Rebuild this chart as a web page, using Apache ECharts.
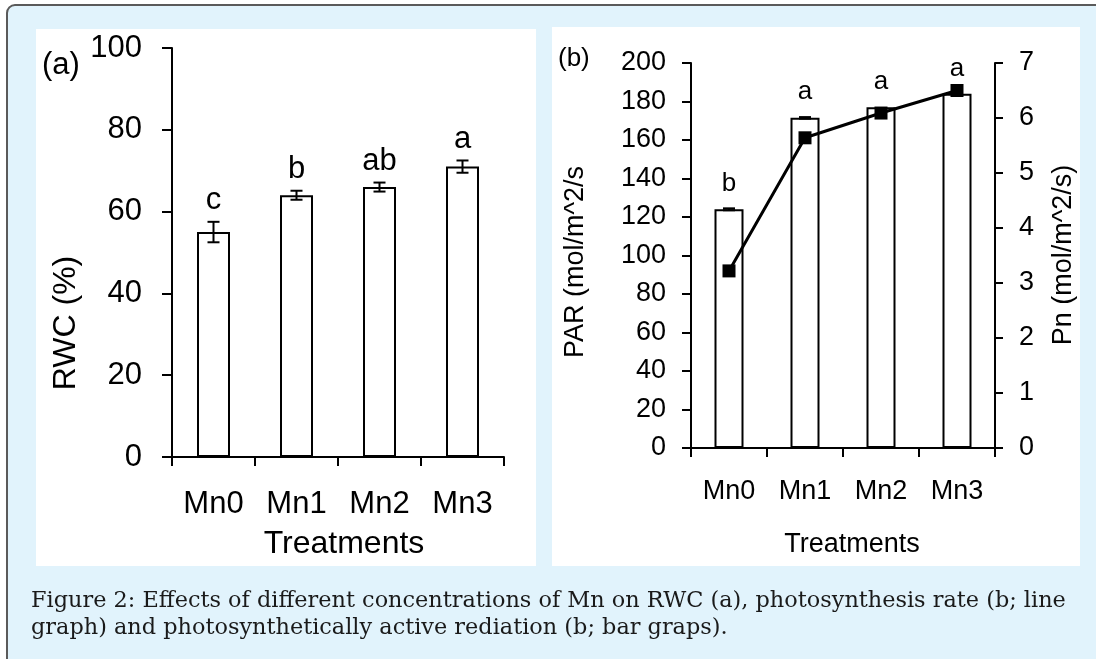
<!DOCTYPE html>
<html>
<head>
<meta charset="utf-8">
<title>Mn effects on RWC, PAR and Pn</title>
<script src="https://cdn.jsdelivr.net/npm/echarts@6/dist/echarts.min.js"></script>
<style>
  html, body { margin: 0; padding: 0; background: #fff; }
  #chart { width: 1096px; height: 659px; }
</style>
</head>
<body>
<div id="chart"></div>
<script>
  // 处理组
  const categories = ['Mn0', 'Mn1', 'Mn2', 'Mn3'];
  // (a) RWC (%)
  const rwcValues = [55, 64, 66, 71];
  const rwcErrors = [2.5, 1.1, 1.1, 1.5];
  const rwcLetters = ['c', 'b', 'ab', 'a'];
  // (b) PAR 柱 + Pn 折线
  const parValues = [124, 171.5, 177, 184];
  const parErrors = [0.5, 0.4, 0, 0];
  const parLetters = ['b', 'a', 'a', 'a'];
  const pnValues = [3.22, 5.64, 6.09, 6.5];

  const FONT = '"Liberation Sans", Arial, sans-serif';
  const SERIF = '"DejaVu Serif", "Liberation Serif", serif';

  const chart = echarts.init(document.getElementById('chart'));

  // 误差线 + 显著性字母
  function errorRender(fontSize, gap, capW) {
    return function (params, api) {
      const i = api.value(0);
      const v = api.value(1);
      const e = api.value(2);
      const top = api.coord([i, v + e]);
      const bot = api.coord([i, v - e]);
      const children = [];
      if (e > 0) {
        children.push(
          { type: 'line', shape: { x1: top[0], y1: top[1], x2: bot[0], y2: bot[1] }, style: { stroke: '#000', lineWidth: 2 } },
          { type: 'line', shape: { x1: top[0] - capW / 2, y1: top[1], x2: top[0] + capW / 2, y2: top[1] }, style: { stroke: '#000', lineWidth: 2 } },
          { type: 'line', shape: { x1: bot[0] - capW / 2, y1: bot[1], x2: bot[0] + capW / 2, y2: bot[1] }, style: { stroke: '#000', lineWidth: 2 } }
        );
      }
      children.push({
        type: 'text',
        x: top[0],
        y: top[1] - gap,
        style: {
          text: api.value(3),
          fontSize: fontSize,
          fontFamily: FONT,
          fill: '#000',
          align: 'center',
          verticalAlign: 'bottom'
        }
      });
      return { type: 'group', children: children };
    };
  }

  const rwcErrData = rwcValues.map((v, i) => [i, v, rwcErrors[i], rwcLetters[i]]);
  const parErrData = parValues.map((v, i) => [i, v, parErrors[i], parLetters[i]]);

  const axisBase = {
    axisLine: { show: true, lineStyle: { color: '#000', width: 2 } },
    axisTick: { show: true, inside: false, lineStyle: { color: '#000', width: 2 } },
    splitLine: { show: false }
  };

  chart.setOption({
    animation: false,
    graphic: [
      { type: 'rect', z: -10, shape: { x: 7, y: 5, width: 1110, height: 700, r: 8 }, style: { fill: '#e1f3fc', stroke: '#5a5a5a', lineWidth: 2 } },
      { type: 'rect', z: -9, shape: { x: 36, y: 29, width: 500, height: 537 }, style: { fill: '#fff' } },
      { type: 'rect', z: -9, shape: { x: 552, y: 27, width: 528, height: 539 }, style: { fill: '#fff' } },
      // 面板 (a) 文字
      { type: 'text', z: 10, x: 42, y: 65, style: { text: '(a)', fontSize: 31, fontFamily: FONT, fill: '#000', verticalAlign: 'middle' } },
      { type: 'text', z: 10, x: 66, y: 323, rotation: Math.PI / 2, style: { text: 'RWC (%)', fontSize: 32, fontFamily: FONT, fill: '#000', align: 'center', verticalAlign: 'middle' } },
      { type: 'text', z: 10, x: 344, y: 544, style: { text: 'Treatments', fontSize: 32, fontFamily: FONT, fill: '#000', align: 'center', verticalAlign: 'middle' } },
      // 面板 (b) 文字
      { type: 'text', z: 10, x: 558, y: 59, style: { text: '(b)', fontSize: 26, fontFamily: FONT, fill: '#000', verticalAlign: 'middle' } },
      { type: 'text', z: 10, x: 576, y: 262, rotation: Math.PI / 2, style: { text: 'PAR (mol/m^2/s', fontSize: 27, fontFamily: FONT, fill: '#000', align: 'center', verticalAlign: 'middle' } },
      { type: 'text', z: 10, x: 1064, y: 255, rotation: Math.PI / 2, style: { text: 'Pn (mol/m^2/s)', fontSize: 27, fontFamily: FONT, fill: '#000', align: 'center', verticalAlign: 'middle' } },
      { type: 'text', z: 10, x: 852, y: 545, style: { text: 'Treatments', fontSize: 27, fontFamily: FONT, fill: '#000', align: 'center', verticalAlign: 'middle' } },
      // 图注
      { type: 'text', z: 10, x: 31, y: 601, style: { text: 'Figure 2: Effects of different concentrations of Mn on RWC (a), photosynthesis rate (b; line', fontSize: 22.4, fontFamily: SERIF, fill: '#1a1a1a', verticalAlign: 'middle' } },
      { type: 'text', z: 10, x: 31, y: 628, style: { text: 'graph) and photosynthetically active rediation (b; bar graps).', fontSize: 22.4, fontFamily: SERIF, fill: '#1a1a1a', verticalAlign: 'middle' } }
    ],
    grid: [
      { left: 172, top: 48, width: 332, height: 409, containLabel: false },
      { left: 691, top: 63, width: 304, height: 385, containLabel: false }
    ],
    xAxis: [
      Object.assign({}, axisBase, {
        type: 'category', gridIndex: 0, data: categories,
        axisTick: Object.assign({}, axisBase.axisTick, { length: 9 }),
        axisLabel: { fontSize: 31, fontFamily: FONT, color: '#000', margin: 32, interval: 0 }
      }),
      Object.assign({}, axisBase, {
        type: 'category', gridIndex: 1, data: categories,
        axisTick: Object.assign({}, axisBase.axisTick, { length: 9 }),
        axisLabel: { fontSize: 27, fontFamily: FONT, color: '#000', margin: 30, interval: 0 }
      })
    ],
    yAxis: [
      Object.assign({}, axisBase, {
        type: 'value', gridIndex: 0, min: 0, max: 100, interval: 20,
        axisTick: Object.assign({}, axisBase.axisTick, { length: 10 }),
        axisLabel: { fontSize: 31, fontFamily: FONT, color: '#000', margin: 30 }
      }),
      Object.assign({}, axisBase, {
        type: 'value', gridIndex: 1, min: 0, max: 200, interval: 20,
        axisTick: Object.assign({}, axisBase.axisTick, { length: 9 }),
        axisLabel: { fontSize: 27, fontFamily: FONT, color: '#000', margin: 25 }
      }),
      Object.assign({}, axisBase, {
        type: 'value', gridIndex: 1, position: 'right', min: 0, max: 7, interval: 1,
        axisTick: Object.assign({}, axisBase.axisTick, { length: 8 }),
        axisLabel: { fontSize: 27, fontFamily: FONT, color: '#000', margin: 24 }
      })
    ],
    series: [
      {
        type: 'bar', xAxisIndex: 0, yAxisIndex: 0, data: rwcValues, barWidth: 33,
        itemStyle: { color: '#fff', borderColor: '#000', borderWidth: 2 }
      },
      {
        type: 'custom', xAxisIndex: 0, yAxisIndex: 0, data: rwcErrData, z: 5,
        renderItem: errorRender(31, 6, 12)
      },
      {
        type: 'bar', xAxisIndex: 1, yAxisIndex: 1, data: parValues, barWidth: 29,
        itemStyle: { color: '#fff', borderColor: '#000', borderWidth: 2 }
      },
      {
        type: 'custom', xAxisIndex: 1, yAxisIndex: 1, data: parErrData, z: 5,
        renderItem: errorRender(26, 12, 12)
      },
      {
        type: 'line', xAxisIndex: 1, yAxisIndex: 2, data: pnValues, z: 6,
        symbol: 'rect', symbolSize: 13,
        itemStyle: { color: '#000' },
        lineStyle: { color: '#000', width: 3 }
      }
    ]
  });
</script>
</body>
</html>
